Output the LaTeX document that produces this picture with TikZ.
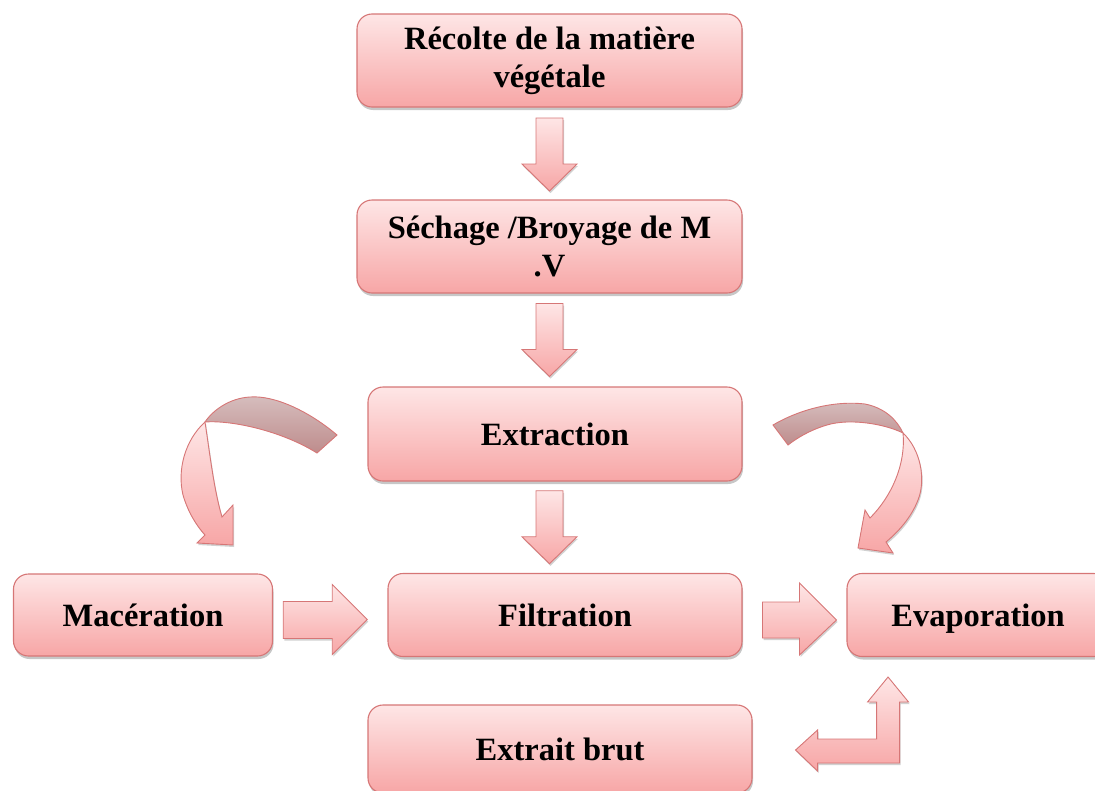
\documentclass[tikz,border=0pt]{standalone}
\usepackage{fontspec}
\setmainfont{Liberation Serif}
\usetikzlibrary{calc,shadows}
\definecolor{boxtop}{RGB}{254,230,230}
\definecolor{boxbot}{RGB}{247,166,166}
\definecolor{boxline}{RGB}{214,118,118}
\definecolor{backtop}{RGB}{214,190,190}
\definecolor{backbot}{RGB}{190,140,140}
\tikzset{
  box/.style={draw=boxline, line width=1.1pt, rounded corners=15pt,
    top color=boxtop, bottom color=boxbot,
    drop shadow={shadow xshift=1pt, shadow yshift=-3pt, fill=black, opacity=.22},
    font=\fontsize{32.5}{38}\selectfont\bfseries, align=center, inner sep=0pt},
  oneline/.style={text height=23pt, text depth=0pt},
  barrow/.style={draw=boxline, line width=0.9pt, line join=miter,
    top color=boxtop, bottom color=boxbot,
    drop shadow={shadow xshift=1pt, shadow yshift=-2pt, fill=black, opacity=.18}},
  backside/.style={draw=boxline, line width=0.9pt, top color=backtop, bottom color=backbot},
}
\begin{document}
\begin{tikzpicture}[x=1pt,y=-1pt]
\useasboundingbox (0,0) rectangle (1095,790);
% boxes
\node[box, minimum width=385pt, minimum height=93pt] (b1) at (549.5,60.5) {Récolte de la matière\\végétale};
\node[box, minimum width=385pt, minimum height=93pt] (b2) at (549.5,246.5) {Séchage /Broyage de M\\.V};
\node[box, oneline, minimum width=374pt, minimum height=94pt] (b3) at (555,434) {Extraction};
\node[box, oneline, minimum width=259pt, minimum height=82pt] (mac) at (143,615) {Macération};
\node[box, oneline, minimum width=354pt, minimum height=83pt] (fil) at (565,615) {Filtration};
\node[box, oneline, minimum width=262pt, minimum height=83pt] (eva) at (978,615) {Evaporation};
\node[box, oneline, minimum width=384pt, minimum height=88pt] (ext) at (560,749) {Extrait brut};
% down block arrows
\coordinate (a1) at ($(b1.south)!0.5!(b2.north)+(0,1)$);
\coordinate (m2) at ($(b2.south)!0.5!(b3.north)$);
\coordinate (m3) at ($(b3.south)!0.5!(fil.north)$);
\coordinate (a2) at (b1 |- m2);
\coordinate (a3) at (b1 |- m3);
\foreach \a in {a1,a2,a3}{
  \path[barrow] (\a) ++(-13.5,-36.5) -- ++(27,0) -- ++(0,46) -- ++(14,0)
     -- ++(-27.5,27) -- ++(-27.5,-27) -- ++(14,0) -- cycle;
}
% right block arrows
\coordinate (r1) at ($(mac.east)!0.5!(fil.west)+(-5,5)$);
\coordinate (r2) at ($(fil.east)!0.5!(eva.west)+(5,5)$);
\path[barrow] (r1) ++(-42,-18.5) -- ++(49,0) -- ++(0,-17) -- ++(35,35)
   -- ++(-35,35) -- ++(0,-16) -- ++(-49,0) -- cycle;
\path[barrow] (r2) ++(-37,-18) -- ++(37,0) -- ++(0,-19) -- ++(37,37)
   -- ++(-37,35) -- ++(0,-17) -- ++(-37,0) -- cycle;
% L-shaped arrow from Evaporation back to Extrait brut
\coordinate (l0) at ($(ext.east)+(43,1)$);
\path[barrow] (l0) -- ++(22,-20) -- ++(0,9) -- ++(59,0) -- ++(0,-37)
   -- ++(-9,0) -- ++(20.5,-25) -- ++(20.5,25) -- ++(-9,0) -- ++(0,61)
   -- ++(-82,0) -- ++(0,8) -- cycle;
% left curved arrow (Extraction -> Macération)
\path[backside] (337,435) .. controls (310,412) and (275,395) .. (250,397)
   .. controls (230,398) and (213,410) .. (205,422)
   .. controls (230,420) and (280,430) .. (317,453) -- cycle;
\path[barrow] (205,422) .. controls (185,440) and (177,470) .. (183,495)
   .. controls (188,512) and (196,525) .. (205,535) -- (197,543) -- (233,545)
   -- (233,505) -- (222,517) .. controls (214,490) and (210,455) .. (205,422) -- cycle;
% right curved arrow (Extraction -> Evaporation)
\path[backside] (773,425) .. controls (795,412) and (830,400) .. (865,404)
   .. controls (885,408) and (897,420) .. (903,433)
   .. controls (885,424) and (850,418) .. (827,425)
   .. controls (810,430) and (797,438) .. (788,445) -- cycle;
\path[barrow] (903,433) .. controls (921,450) and (926,480) .. (918,500)
   .. controls (911,518) and (898,532) .. (886,542) -- (893,553) -- (858,548)
   -- (865,510) -- (870,518) .. controls (891,497) and (906,465) .. (903,433) -- cycle;
\end{tikzpicture}
\end{document}
